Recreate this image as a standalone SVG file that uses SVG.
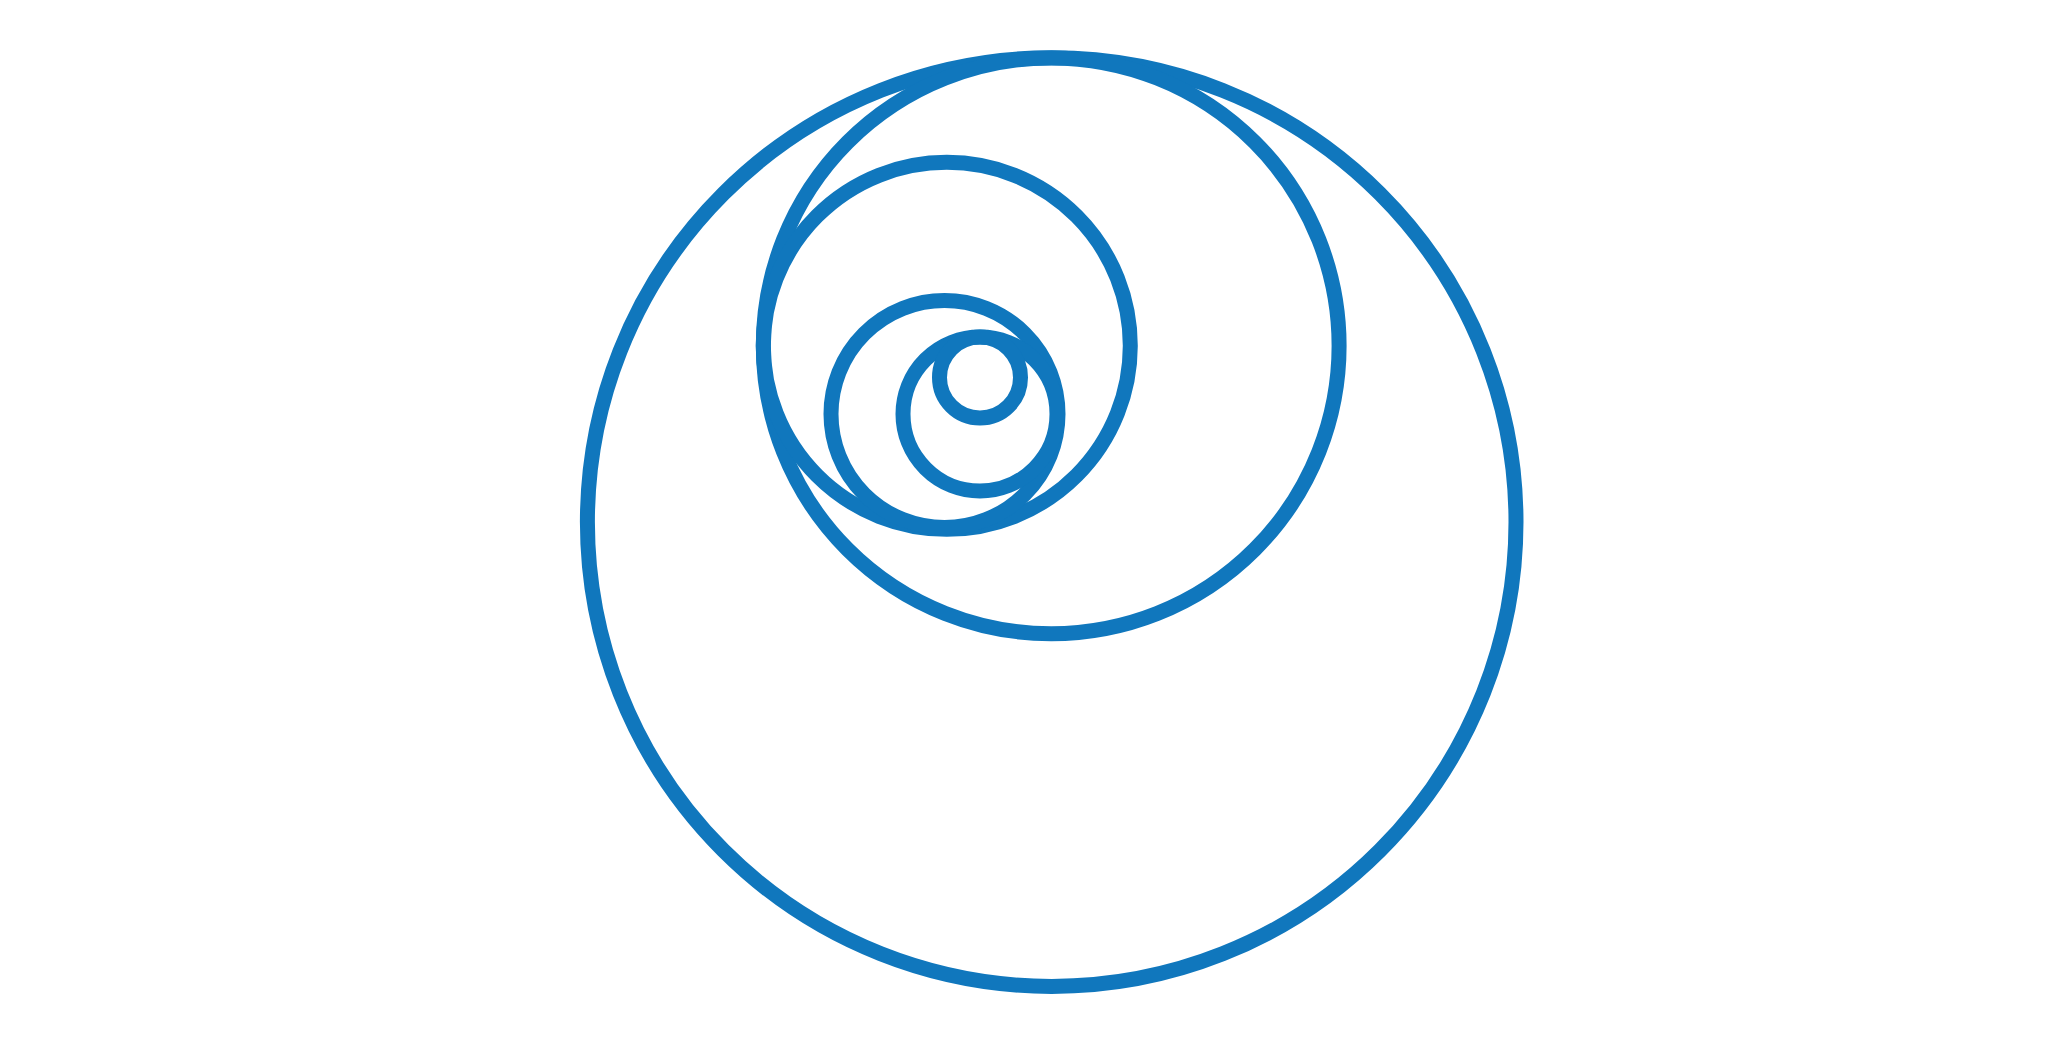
<svg xmlns="http://www.w3.org/2000/svg" width="2068" height="1045" viewBox="0 0 2068 1045">
  <style>
    .ring { fill: none; stroke: #1077bd; stroke-width: 15; }
  </style>
  <rect x="0" y="0" width="2068" height="1045" fill="#ffffff"/>
  <g id="circle-1"><circle class="ring" cx="1051.7" cy="522.1" r="464.3"/></g>
  <g id="circle-2"><circle class="ring" cx="1051.2" cy="345.8" r="287.9"/></g>
  <g id="circle-3"><circle class="ring" cx="946.8" cy="345.8" r="183.5"/></g>
  <g id="circle-4"><circle class="ring" cx="944.5" cy="414" r="113.5"/></g>
  <g id="circle-5"><circle class="ring" cx="980" cy="414" r="77"/></g>
  <g id="circle-6"><circle class="ring" cx="980" cy="377.5" r="40.5"/></g>
</svg>
